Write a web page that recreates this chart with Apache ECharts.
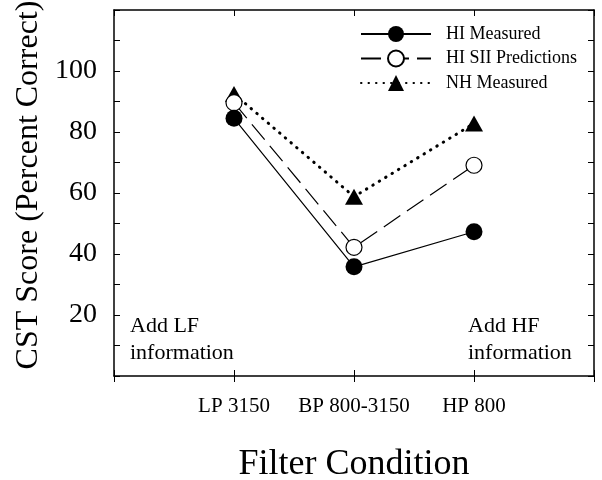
<!DOCTYPE html>
<html>
<head>
<meta charset="utf-8">
<script src="https://cdn.jsdelivr.net/npm/echarts@6/dist/echarts.min.js"></script>
<style>
  html, body { margin: 0; padding: 0; background: #fff; }
  #chart { width: 602px; height: 480px; }
</style>
</head>
<body>
<div id="chart"></div>
<script>
// filter conditions, placed at x = 1, 2, 3
const categories = ['LP 3150', 'BP 800-3150', 'HP 800'];
const hiMeasured = [84.5, 35.8, 47.3];
const hiSiiPredictions = [89.6, 42.2, 69.1];
const nhMeasured = [92.5, 58.8, 82.8];
const yTicks = [20, 40, 60, 80, 100];

const font = 'Liberation Serif';
const pairs = (vals) => vals.map((v, i) => [i + 1, v]);

const myChart = echarts.init(document.getElementById('chart'));

const boxLine = { onZero: false, lineStyle: { color: '#000', width: 1.5 } };

const option = {
  backgroundColor: '#fff',
  animation: false,
  textStyle: { fontFamily: font, color: '#000' },
  grid: { left: 114, right: 8, top: 10, bottom: 104, outerBoundsMode: 'none' },
  legend: {
    orient: 'vertical',
    left: 355,
    top: 20,
    itemWidth: 70,
    itemHeight: 20,
    itemGap: 6.5,
    textStyle: { fontFamily: font, fontSize: 18, color: '#000', padding: [0, 0, 0, 10] },
    data: ['HI Measured', 'HI SII Predictions', 'NH Measured']
  },
  xAxis: [
    {
      type: 'value', min: 0, max: 4, interval: 1,
      position: 'bottom',
      name: 'Filter Condition',
      nameLocation: 'middle',
      nameGap: 71,
      nameTextStyle: { fontFamily: font, fontSize: 36, color: '#000' },
      axisLine: Object.assign({ show: true }, boxLine),
      axisTick: { inside: false, length: 6, lineStyle: { color: '#000' } },
      axisLabel: {
        margin: 20, fontSize: 21, fontFamily: font, color: '#000',
        formatter: (v) => categories[v - 1] || ''
      },
      splitLine: { show: false }
    },
    {
      type: 'value', min: 0, max: 4, interval: 1,
      position: 'top',
      axisLine: Object.assign({ show: true }, boxLine),
      axisTick: { inside: true, length: 6, lineStyle: { color: '#000' } },
      axisLabel: { show: false },
      splitLine: { show: false }
    },
    {
      // inner half of the bottom ticks
      type: 'value', min: 0, max: 4, interval: 1,
      position: 'bottom',
      axisLine: { show: false, onZero: false },
      axisTick: { inside: true, length: 6, lineStyle: { color: '#000' } },
      axisLabel: { show: false },
      splitLine: { show: false }
    }
  ],
  yAxis: [
    {
      type: 'value', min: 0, max: 120, interval: 20,
      position: 'left',
      name: 'CST Score (Percent Correct)',
      nameLocation: 'middle',
      nameGap: 63,
      nameTextStyle: { fontFamily: font, fontSize: 32, color: '#000', padding: [0, 0, 0, 16] },
      axisLine: Object.assign({ show: true }, boxLine),
      axisTick: { show: true, inside: true, length: 6, lineStyle: { color: '#000' } },
      minorTick: { show: true, splitNumber: 2, length: 6, lineStyle: { color: '#000' } },
      axisLabel: {
        margin: 17, fontSize: 28, fontFamily: font, color: '#000',
        formatter: (v) => yTicks.includes(v) ? String(v) : ''
      },
      splitLine: { show: false }
    },
    {
      type: 'value', min: 0, max: 120, interval: 20,
      position: 'right',
      axisLine: Object.assign({ show: true }, boxLine),
      axisTick: { show: true, inside: true, length: 6, lineStyle: { color: '#000' } },
      minorTick: { show: true, splitNumber: 2, length: 6, lineStyle: { color: '#000' } },
      axisLabel: { show: false },
      splitLine: { show: false }
    }
  ],
  graphic: [
    {
      type: 'text', left: 130, top: 313,
      style: { text: 'Add LF\ninformation', font: '22px "Liberation Serif"', fill: '#000', lineHeight: 27 }
    },
    {
      type: 'text', left: 468, top: 313,
      style: { text: 'Add HF\ninformation', font: '22px "Liberation Serif"', fill: '#000', lineHeight: 27 }
    }
  ],
  series: [
    {
      name: 'NH Measured',
      type: 'line',
      data: pairs(nhMeasured),
      symbol: 'triangle',
      symbolSize: [18, 16],
      itemStyle: { color: '#000' },
      lineStyle: { color: '#000', width: 3, type: [0.5, 7], cap: 'round' },
      z: 2
    },
    {
      name: 'HI SII Predictions',
      type: 'line',
      data: pairs(hiSiiPredictions),
      symbol: 'circle',
      symbolSize: 16,
      itemStyle: { color: '#fff', borderColor: '#000', borderWidth: 1.2 },
      lineStyle: { color: '#000', width: 1.2, type: [20, 8] },
      z: 3
    },
    {
      name: 'HI Measured',
      type: 'line',
      data: pairs(hiMeasured),
      symbol: 'circle',
      symbolSize: 17,
      itemStyle: { color: '#000' },
      lineStyle: { color: '#000', width: 1.2 },
      z: 4
    }
  ]
};

myChart.setOption(option);
</script>
</body>
</html>
